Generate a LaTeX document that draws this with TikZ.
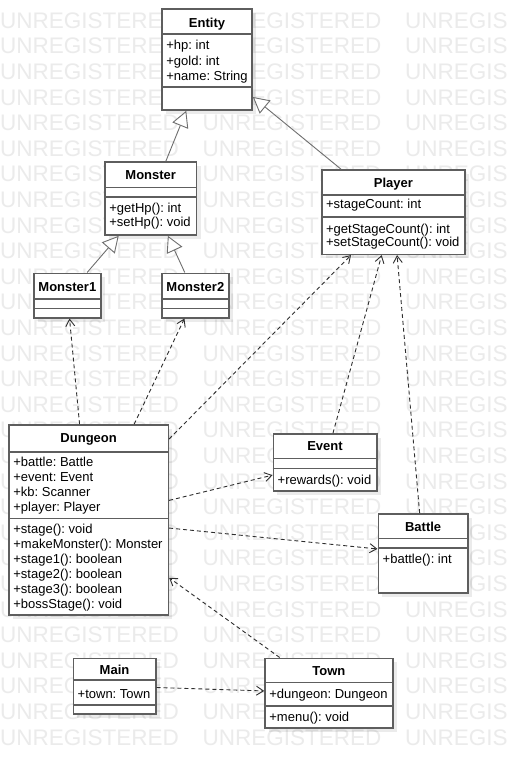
\documentclass[tikz,border=0pt]{standalone}
\usepackage{fontspec}
\setmainfont{Liberation Sans}
\usetikzlibrary{arrows.meta,fit,shadows}

\definecolor{wmgray}{HTML}{EBEBEB}
\definecolor{boxgray}{HTML}{5E5E5E}
\definecolor{genline}{HTML}{6E6E6E}
\definecolor{depline}{HTML}{2E2E2E}

\tikzset{
  wm/.style={font=\fontsize{22.5}{24}\selectfont, text=wmgray, inner sep=0pt, anchor=west},
  cls/.style={draw=boxgray, line width=1.6pt, fill=white, inner sep=0pt,
    drop shadow={shadow xshift=4pt, shadow yshift=-4pt, opacity=0.08, fill=black}},
  cline/.style={draw=boxgray, line width=1.6pt},
  ttl/.style={font=\fontsize{13}{15}\selectfont\bfseries, inner sep=0pt, text height=9.3pt, text depth=0pt},
  mem/.style={font=\fontsize{13}{15}\selectfont, inner sep=0pt, anchor=west, xshift=5pt, text height=9.3pt, text depth=0pt},
  gen/.style={draw=genline, line width=0.9pt, -{Triangle[length=16pt,width=17pt,fill=white,line width=0.9pt]}},
  dep/.style={draw=depline, line width=0.9pt, dash pattern=on 4pt off 3pt,
    -{Straight Barb[length=7pt,width=9pt]}},
}

\begin{document}
\frenchspacing
\begin{tikzpicture}[x=1pt,y=-1pt]
\useasboundingbox (0,0) rectangle (507,768);
\clip (0,0) rectangle (507,768);
\fill[white] (0,0) rectangle (507,768);

% background watermark rows
\foreach \k in {0,...,28} {
  \foreach \c in {0,1,2} {
    \node[wm] (wm-\k-\c) at (\c*202.5, 20.5+25.6*\k) {UNREGISTERED};
  }
}

% ---------- classes ----------
% Entity
\node[cls, fit={(162,9) (252,110)}] (entity) {};
\draw[cline] (entity.west |- 0,34.3) -- (entity.east |- 0,34.3);
\draw[cline] (entity.west |- 0,87) -- (entity.east |- 0,87);
\node[ttl] (entity-name) at (entity.center |- 0,22.5) {Entity};
\node[mem] (entity-a1) at (entity.west |- 0,45) {+hp: int};
\node[mem] (entity-a2) at (entity.west |- 0,60.5) {+gold: int};
\node[mem] (entity-a3) at (entity.west |- 0,76) {+name: String};

% Monster
\node[cls, fit={(105,162) (196.5,235)}] (monster) {};
\draw[cline] (monster.west |- 0,187.3) -- (monster.east |- 0,187.3);
\draw[cline] (monster.west |- 0,196.7) -- (monster.east |- 0,196.7);
\node[ttl] (monster-name) at (monster.center |- 0,174.5) {Monster};
\node[mem] (monster-m1) at (monster.west |- 0,208.3) {+getHp(): int};
\node[mem] (monster-m2) at (monster.west |- 0,221.7) {+setHp(): void};

% Monster1
\node[cls, fit={(34,273.3) (100.7,317.7)}] (monster1) {};
\draw[cline] (monster1.west |- 0,299) -- (monster1.east |- 0,299);
\draw[cline] (monster1.west |- 0,308.3) -- (monster1.east |- 0,308.3);
\node[ttl] (monster1-name) at (monster1.center |- 0,286.5) {Monster1};

% Monster2
\node[cls, fit={(161.7,273.3) (229,317.7)}] (monster2) {};
\draw[cline] (monster2.west |- 0,299) -- (monster2.east |- 0,299);
\draw[cline] (monster2.west |- 0,308.3) -- (monster2.east |- 0,308.3);
\node[ttl] (monster2-name) at (monster2.center |- 0,286.5) {Monster2};

% Player
\node[cls, fit={(321.7,170) (465,254.3)}] (player) {};
\draw[cline] (player.west |- 0,195) -- (player.east |- 0,195);
\draw[cline] (player.west |- 0,216.7) -- (player.east |- 0,216.7);
\node[ttl] (player-name) at (player.center |- 0,182.7) {Player};
\node[mem] (player-a1) at (player.west |- 0,204.3) {+stageCount: int};
\node[mem] (player-m1) at (player.west |- 0,229) {+getStageCount(): int};
\node[mem] (player-m2) at (player.west |- 0,241.7) {+setStageCount(): void};

% Dungeon
\node[cls, fit={(9,425) (168.3,615)}] (dungeon) {};
\draw[cline] (dungeon.west |- 0,451.7) -- (dungeon.east |- 0,451.7);
\draw[cline] (dungeon.west |- 0,518.3) -- (dungeon.east |- 0,518.3);
\node[ttl] (dungeon-name) at (dungeon.center |- 0,438.3) {Dungeon};
\node[mem] (dungeon-a1) at (dungeon.west |- 0,461.7) {+battle: Battle};
\node[mem] (dungeon-a2) at (dungeon.west |- 0,476.5) {+event: Event};
\node[mem] (dungeon-a3) at (dungeon.west |- 0,491.5) {+kb: Scanner};
\node[mem] (dungeon-a4) at (dungeon.west |- 0,506.5) {+player: Player};
\node[mem] (dungeon-m1) at (dungeon.west |- 0,528.5) {+stage(): void};
\node[mem] (dungeon-m2) at (dungeon.west |- 0,544) {+makeMonster(): Monster};
\node[mem] (dungeon-m3) at (dungeon.west |- 0,559) {+stage1(): boolean};
\node[mem] (dungeon-m4) at (dungeon.west |- 0,574) {+stage2(): boolean};
\node[mem] (dungeon-m5) at (dungeon.west |- 0,589) {+stage3(): boolean};
\node[mem] (dungeon-m6) at (dungeon.west |- 0,603.5) {+bossStage(): void};

% Event
\node[cls, fit={(273.3,434) (376.7,490.7)}] (event) {};
\draw[cline] (event.west |- 0,458.3) -- (event.east |- 0,458.3);
\draw[cline] (event.west |- 0,468.3) -- (event.east |- 0,468.3);
\node[ttl] (event-name) at (event.center |- 0,446) {Event};
\node[mem] (event-m1) at (event.west |- 0,480) {+rewards(): void};

% Battle
\node[cls, fit={(378.3,514) (468,593)}] (battle) {};
\draw[cline] (battle.west |- 0,538.3) -- (battle.east |- 0,538.3);
\draw[cline] (battle.west |- 0,547.7) -- (battle.east |- 0,547.7);
\node[ttl] (battle-name) at (battle.center |- 0,526.5) {Battle};
\node[mem] (battle-m1) at (battle.west |- 0,559.3) {+battle(): int};

% Main
\node[cls, fit={(73.3,658.3) (155.7,714)}] (main) {};
\draw[cline] (main.west |- 0,680) -- (main.east |- 0,680);
\draw[cline] (main.west |- 0,705) -- (main.east |- 0,705);
\node[ttl] (main-name) at (main.center |- 0,670) {Main};
\node[mem] (main-a1) at (main.west |- 0,693.5) {+town: Town};

% Town
\node[cls, fit={(265,658.3) (392.7,727.7)}] (town) {};
\draw[cline] (town.west |- 0,682.5) -- (town.east |- 0,682.5);
\draw[cline] (town.west |- 0,705.7) -- (town.east |- 0,705.7);
\node[ttl] (town-name) at (town.center |- 0,670.5) {Town};
\node[mem] (town-a1) at (town.west |- 0,694) {+dungeon: Dungeon};
\node[mem] (town-m1) at (town.west |- 0,716.7) {+menu(): void};

% ---------- relations ----------
\draw[gen] (monster) -- (entity);
\draw[gen] (player) -- (entity);
\draw[gen] (monster1) -- (monster);
\draw[gen] (monster2) -- (monster);

\draw[dep] (dungeon) -- (monster1);
\draw[dep] (dungeon) -- (monster2);
\draw[dep] (dungeon) -- (player);
\draw[dep] (event) -- (player);
\draw[dep] (battle) -- (player);
\draw[dep] (dungeon) -- (event);
\draw[dep] (dungeon) -- (battle);
\draw[dep] (town) -- (dungeon);
\draw[dep] (main) -- (town);
\end{tikzpicture}
\end{document}
